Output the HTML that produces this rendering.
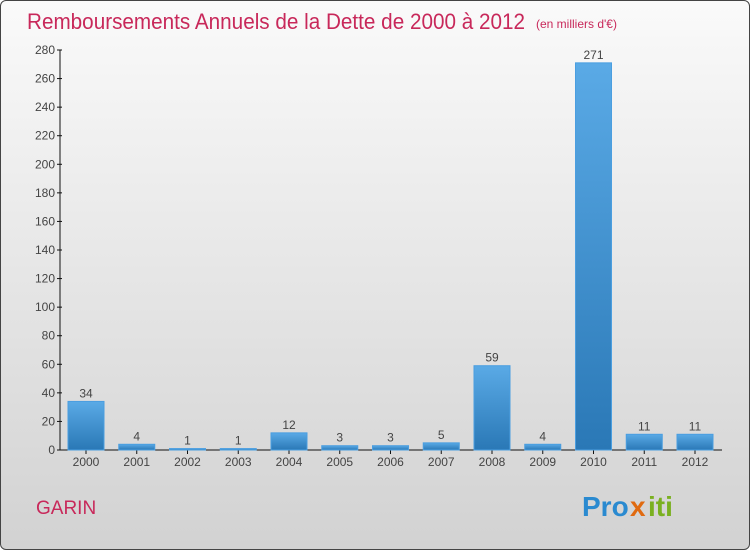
<!DOCTYPE html>
<html><head><meta charset="utf-8"><style>
html,body{margin:0;padding:0;width:750px;height:550px;overflow:hidden;font-family:"Liberation Sans",sans-serif}
#frame{position:absolute;left:0;top:0;width:748px;height:548px;border:1px solid #444;border-radius:6px;background:linear-gradient(#fafafa,#d2d2d2)}
</style></head><body>
<div id="frame"></div>
<svg id="chart" width="750" height="550" style="position:absolute;left:0;top:0">
<text x="27" y="29" font-size="22" fill="#c8285a" textLength="498" lengthAdjust="spacingAndGlyphs">Remboursements Annuels de la Dette de 2000 à 2012</text>
<text x="536" y="28" font-size="12" fill="#c8285a">(en milliers d'€)</text>
<text x="36" y="514" font-size="19" fill="#c8285a">GARIN</text>
<g font-size="28" font-weight="bold">
<text x="582" y="516" fill="#2a8ad0">Pro</text><text x="630" y="516" fill="#e06a10">x</text><text x="648" y="516" fill="#7ab020">iti</text>
</g>
<defs><linearGradient id="bg" x1="0" y1="0" x2="0" y2="1"><stop offset="0" stop-color="#5aaae6"/><stop offset="1" stop-color="#2a78b6"/></linearGradient></defs>
<g id="axis"></g><g id="bars"></g>
</svg>
<script>
const years=["2000","2001","2002","2003","2004","2005","2006","2007","2008","2009","2010","2011","2012"];
const values=[34,4,1,1,12,3,3,5,59,4,271,11,11];
const yTicks=[0,20,40,60,80,100,120,140,160,180,200,220,240,260,280];
const NS="http://www.w3.org/2000/svg";
const y0=450,yTop=50,yMax=280,xAxis=60,x0=86,step=50.75,bw=36;
const y=v=>y0-(v/yMax)*(y0-yTop);
const x=i=>x0+i*step;
function mk(t,a,p){const e=document.createElementNS(NS,t);for(const k in a)e.setAttribute(k,a[k]);p.appendChild(e);return e;}
const ax=document.getElementById('axis'),bars=document.getElementById('bars');
let l=mk('line',{x1:xAxis,y1:yTop,x2:xAxis,y2:y0,stroke:'#111'},ax);


l=mk('line',{x1:xAxis,y1:y0,x2:722,y2:y0,stroke:'#111'},ax);


yTicks.forEach(v=>{
 mk('line',{x1:xAxis-3,x2:xAxis+2,y1:y(v),y2:y(v),stroke:'#111'},ax);
 const t=mk('text',{x:xAxis-5,y:y(v)+4,'font-size':12,fill:'#444','text-anchor':'end'},ax);
 t.textContent=v;
 
 
});
years.forEach((yr,i)=>{
 const cx=x(i),v=values[i];
 const r=mk('rect',{x:cx-bw/2,y:y(v),width:bw,height:y0-y(v),fill:'url(#bg)',stroke:'#4a9ee0','stroke-width':1},bars);
 
 
 const vl=mk('text',{x:cx,y:y(v)-4,'font-size':12,fill:'#444','text-anchor':'middle'},bars);
 vl.textContent=v;
 
 
 mk('line',{x1:cx,x2:cx,y1:y0,y2:y0+4,stroke:'#111'},ax);
 const t=mk('text',{x:cx,y:466,'font-size':12,fill:'#444','text-anchor':'middle'},ax);
 t.textContent=yr;
 
 
});
</script>
</body></html>
